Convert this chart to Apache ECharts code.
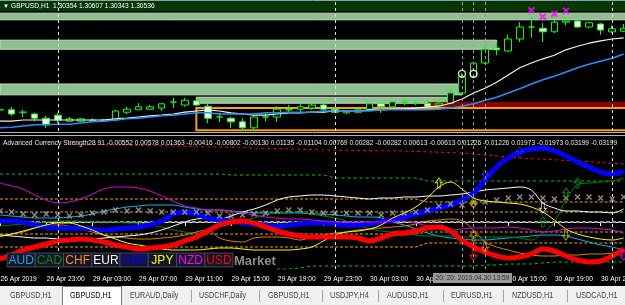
<!DOCTYPE html>
<html><head><meta charset="utf-8">
<script src="https://cdn.jsdelivr.net/npm/echarts/dist/echarts.min.js"></script>
<style>html,body{margin:0;padding:0;background:#000;overflow:hidden}#c{width:625px;height:305px}</style>
</head><body><div id="c"></div>
<script>
// ---------- DATA ----------
const categories = ['2019.04.26 19:00','2019.04.26 20:00','2019.04.26 21:00','2019.04.26 22:00','2019.04.26 23:00',
'2019.04.29 00:00','2019.04.29 01:00','2019.04.29 02:00','2019.04.29 03:00','2019.04.29 04:00','2019.04.29 05:00','2019.04.29 06:00','2019.04.29 07:00',
'2019.04.29 08:00','2019.04.29 09:00','2019.04.29 10:00','2019.04.29 11:00','2019.04.29 12:00','2019.04.29 13:00','2019.04.29 14:00','2019.04.29 15:00',
'2019.04.29 16:00','2019.04.29 17:00','2019.04.29 18:00','2019.04.29 19:00','2019.04.29 20:00','2019.04.29 21:00','2019.04.29 22:00','2019.04.29 23:00',
'2019.04.30 00:00','2019.04.30 01:00','2019.04.30 02:00','2019.04.30 03:00','2019.04.30 04:00','2019.04.30 05:00','2019.04.30 06:00','2019.04.30 07:00',
'2019.04.30 08:00','2019.04.30 09:00','2019.04.30 10:00','2019.04.30 11:00','2019.04.30 12:00','2019.04.30 13:00','2019.04.30 14:00','2019.04.30 15:00',
'2019.04.30 16:00','2019.04.30 17:00','2019.04.30 18:00','2019.04.30 19:00','2019.04.30 20:00','2019.04.30 21:00','2019.04.30 22:00','2019.04.30 23:00',
'2019.05.01 00:00','2019.05.01 01:00','2019.05.01 02:00'];
const tickLabels = ['26 Apr 2019','26 Apr 23:00','29 Apr 03:00','29 Apr 07:00','29 Apr 11:00','29 Apr 15:00','29 Apr 19:00',
'29 Apr 23:00','30 Apr 03:00','30 Apr 07:00','30 Apr 11:00','30 Apr 15:00','30 Apr 19:00','30 Apr 23:00'];
// [open, close, low, high]
const candles = [
[1.2917,1.2917,1.2910,1.2923],[1.2917,1.2910,1.2907,1.2922],[1.2913,1.2913,1.2905,1.2917],[1.2910,1.2903,1.2898,1.2912],
[1.2903,1.2892,1.2887,1.2907],[1.2908,1.2900,1.2895,1.2912],[1.2898,1.2902,1.2897,1.2905],[1.2898,1.2902,1.2897,1.2903],
[1.2898,1.2900,1.2897,1.2903],[1.2898,1.2900,1.2897,1.2902],[1.2900,1.2915,1.2898,1.2917],[1.2913,1.2918,1.2910,1.2922],
[1.2917,1.2922,1.2917,1.2928],[1.2918,1.2922,1.2918,1.2925],[1.2920,1.2927,1.2915,1.2928],[1.2930,1.2930,1.2920,1.2937],
[1.2925,1.2933,1.2922,1.2937],[1.2932,1.2925,1.2923,1.2935],[1.2923,1.2903,1.2895,1.2927],[1.2905,1.2905,1.2897,1.2912],
[1.2903,1.2897,1.2887,1.2905],[1.2897,1.2887,1.2883,1.2903],[1.2887,1.2905,1.2883,1.2908],[1.2905,1.2905,1.2898,1.2912],
[1.2905,1.2918,1.2897,1.2923],[1.2917,1.2917,1.2912,1.2925],[1.2918,1.2922,1.2913,1.2927],[1.2920,1.2925,1.2917,1.2927],
[1.2925,1.2918,1.2912,1.2927],[1.2918,1.2913,1.2912,1.2920],[1.2912,1.2915,1.2910,1.2917],[1.2913,1.2917,1.2913,1.2918],
[1.2918,1.2927,1.2917,1.2928],[1.2928,1.2922,1.2912,1.2930],[1.2922,1.2930,1.2920,1.2932],[1.2930,1.2930,1.2925,1.2935],
[1.2928,1.2928,1.2925,1.2933],[1.2928,1.2923,1.2920,1.2933],[1.2925,1.2928,1.2923,1.2932],[1.2928,1.2945,1.2927,1.2950],
[1.2945,1.2972,1.2942,1.2978],[1.2972,1.2995,1.2970,1.2997],[1.2995,1.3018,1.2993,1.3022],[1.3020,1.3017,1.3008,1.3030],
[1.3015,1.3035,1.3013,1.3042],[1.3035,1.3055,1.3030,1.3063],[1.3055,1.3055,1.3037,1.3072],[1.3053,1.3047,1.3030,1.3062],
[1.3047,1.3063,1.3045,1.3067],[1.3063,1.3065,1.3058,1.3070],[1.3065,1.3055,1.3053,1.3067],[1.3055,1.3062,1.3053,1.3063],
[1.3060,1.3050,1.3042,1.3062],[1.3047,1.3052,1.3045,1.3058],[1.3048,1.3053,1.3047,1.3060]];
const maWhite = [1.2898,1.2898,1.2900,1.2900,1.2900,1.2900,1.2900,1.2900,1.2900,1.2900,
1.2902,1.2903,1.2905,1.2907,1.2908,1.2910,1.2913,1.2915,1.2917,1.2915,
1.2912,1.2910,1.2908,1.2908,1.2910,1.2912,1.2912,1.2913,1.2913,1.2915,
1.2915,1.2915,1.2917,1.2917,1.2918,1.2918,1.2920,1.2922,1.2923,1.2928,
1.2935,1.2945,1.2953,1.2963,1.2975,1.2987,1.2995,1.3002,1.3008,1.3017,
1.3023,1.3028,1.3032,1.3035,1.3037];
const maBlue = [1.2887,1.2888,1.2890,1.2892,1.2892,1.2893,1.2893,1.2895,1.2897,1.2898,
1.2900,1.2902,1.2903,1.2905,1.2907,1.2908,1.2910,1.2912,1.2912,1.2910,
1.2910,1.2910,1.2910,1.2912,1.2912,1.2913,1.2913,1.2913,1.2915,1.2915,
1.2915,1.2915,1.2915,1.2917,1.2917,1.2917,1.2917,1.2917,1.2918,1.2920,
1.2923,1.2927,1.2933,1.2938,1.2945,1.2952,1.2960,1.2967,1.2973,1.2980,
1.2987,1.2993,1.2998,1.3003,1.3010];
const zoneTop = [1.3078,1.3067];
const zoneMid = [1.3033,1.3018];
const zoneLow = [1.2960,1.2942];
const zoneBox = [1.2938,1.2928];
const zoneRed = [1.2930,1.2920];
const orangeBox = [1.2920,1.2883];
const priceLineTop = 1.3080;
const magentaMarks = [[46,1.3083],[47,1.3072],[48,1.3077],[49,1.3082]];
const whiteRings = [[40,1.2977],[41,1.2977]];

// Advanced Currency Strength (indicator units)
const AUD = [7,6,5,4,4,4,5,6,8,11,13,15,16,17,17,17,15,13,12,12,11,10,9,9,9,9,9,8,8,7,6,5,5,4,0,-3,-7,-11,-14,-16,-17,-18,-18,-17,-16,-15,-14,-13,-13,-14,-17,-20,-23,-25,-28];
const CAD = [-4,-3,-2,-1,0,1,1,1,0,0,0,-1,-1,-3,-5,-8,-10,-11,-9,-5,-2,1,4,7,9,10,10,8,6,4,1,-3,-7,-9,-10,-11,-13,-14,-14,-14,-15,-15,-15,-15,-15,-16,-18,-11,0,22,37,39,40,41,44];
const CHF = [-15,-12,-10,-6,-4,-3,-4,-7,-10,-13,-15,-16,-17,-17,-16,-15,-13,-10,-8,-16,-19,-20,-16,-15,-15,-16,-18,-15,-13,-11,-10,-8,-7,-6,-5,-4,-2,1,2,3,1,-8,-20,-25,-28,-31,-33,-34,-34,-33,-33,-32,-32,-31,-29];
const EUR = [-13,-14,-15,-16,-16,-17,-17,-17,-17,-16,-15,-14,-13,-11,-8,-4,0,3,4,3,6,10,13,17,22,25,26,27,27,26,25,24,23,24,24,25,25,26,26,27,28,30,32,33,34,35,32,19,14,11,11,10,10,9,13];
const GBP = [1,1,0,-3,-5,-6,-6,-6,-7,-8,-7,-6,-5,-3,1,8,10,8,4,2,1,-1,-2,-3,-4,-3,-2,-1,-1,-2,-3,-3,-2,0,2,5,8,11,14,17,22,29,42,55,64,70,73,74,71,66,60,55,50,48,51];
const JPY = [-14,-12,-9,-6,-3,-1,-1,-4,-8,-13,-17,-21,-23,-25,-27,-28,-28,-28,-27,-26,-26,-27,-28,-28,-28,-28,-27,-25,-19,-13,-10,-9,-7,-3,4,9,15,24,35,40,33,24,21,20,19,18,15,10,2,-7,-12,-15,-17,-18,-16];
const NZD = [39,36,33,27,22,19,20,23,28,33,35,35,34,31,26,21,16,14,12,12,11,9,7,5,4,3,3,2,1,0,0,0,0,0,1,1,-1,-4,-7,-8,-7,-6,-6,-6,-5,-6,-8,-10,-9,-7,-6,-6,-7,-8,-11];
const USD = [-37,-33,-28,-25,-22,-19,-18,-17,-18,-20,-23,-25,-27,-26,-25,-23,-19,-15,-9,-3,0,1,-1,-5,-9,-12,-14,-15,-15,-15,-15,-16,-19,-16,-12,-11,-9,-6,-5,-9,-18,-25,-30,-34,-36,-35,-32,-27,-29,-34,-38,-40,-39,-34,-27];
const MARKET = [11,10,8,7,8,7,6,7,9,10,12,11,12,11,10,10,10,10,9,6,6,7,8,9,11,12,12,10,9,9,9,9,9,7,9,9,10,12,16,18,17,19,20,22,24,25,25,24,23,24,25,25,24,23,25];
const levelUpper2 = [23,23,23,23,23,23,23,23,23,23,23,23,23,23,23,23,23,23,23,23,23,23,23,23,23,23,23,23,23,23,23,23,23,23,23,23,23,20,20,20,20,20,20,20,20,20,20,20,20,20,20,20,20,20,20];
const levelUpper1 = [10,10,10,10,10,10,10,10,10,10,10,10,10,10,10,10,10,10,10,10,10,10,10,10,10,10,10,10,10,10,10,10,10,10,10,10,10,10,10,10,10,10,10,10,10,10,10,10,10,10,10,10,10,10,10];
const levelZero = [0,0,0,0,0,0,0,0,0,0,0,0,0,0,0,0,0,0,0,0,0,0,0,0,0,0,0,0,0,0,0,0,0,0,0,0,0,0,0,0,0,0,0,0,0,0,0,0,0,0,0,0,0,0,0];
const levelLower1 = [-12,-12,-12,-12,-12,-12,-12,-12,-12,-12,-12,-12,-12,-12,-12,-12,-12,-12,-12,-12,-12,-12,-12,-12,-12,-12,-12,-12,-12,-12,-12,-12,-12,-12,-12,-12,-12,-10,-10,-10,-10,-10,-10,-10,-10,-10,-10,-10,-10,-10,-10,-10,-10,-10,-10];
const levelLower2 = [-25,-25,-25,-25,-25,-25,-25,-25,-25,-25,-25,-25,-25,-25,-25,-25,-25,-25,-25,-25,-25,-25,-25,-25,-25,-25,-25,-25,-25,-25,-25,-25,-25,-25,-25,-25,-25,-21,-21,-21,-21,-21,-21,-21,-21,-21,-21,-21,-21,-21,-21,-21,-21,-21,-21];
const greenTop = [48,48,48,48,48,48,48,48,48,48,48,48,48,48,48,48,48,48,48,48,47,47,47,47,47,47,47,47,47,44,44,44,44,44,44,44,44,41,41,41,41,41,41,41,41,41,41,41,41,41,41,41,41,41,41];
const greenBottom = [null,null,null,null,null,null,null,null,null,null,null,null,null,null,null,null,null,null,null,null,null,null,null,null,-47,-47,-46,-44,-44,-44,-44,-44,-44,-44,-44,-44,-44,-44,-44,-44,-44,-44,-43,-43,-42,-42,-42,-41,-40,-40,-40,-40,-40,-40,-40];
const redDashed = [[6,78],[15,76],[22,74],[28,72],[35,71],[40,69],[45,64],[50,61],[54,58]];
const arrowsUpYellow = [[38,39]];
const arrowsDownYellow = [[41,19],[49,-13]];
const arrowsUpBlue = [[42,47],[45,70]];
const arrowsDownWhite = [[47,14]];
const arrowsUpGreen = [[47,0],[49,29],[50,39]];
const arrowsUpOrange = [[41,-14]];
const arrowsDownOrange = [[42,-25]];
const arrowsDownRed = [[41,-33]];
const arrowsDownMagenta = [[54,-33]];
const daySeparators = [5,29,53];
const crossLines = [40,41,42];
const currencies = ['AUD','CAD','CHF','EUR','GBP','JPY','NZD','USD'];
const headerText = 'GBPUSD,H1  1.30354 1.30607 1.30343 1.30536';
const indicatorTitle = 'Advanced Currency Strength28 91 -0.00552 0.00578 0.01363 -0.00416 -0.00802 -0.00130 0.01135 -0.01104 0.00769 0.00282 -0.00282 0.00613 -0.00613 0.01226 -0.01226 0.01973 -0.01973 0.03199 -0.03199';
const crosshairText = '20: 20: 2019.04.30 13:59';
const tabs = ['GBPUSD,H1','GBPUSD,H1','EURAUD,Daily','USDCHF,Daily','GBPUSD,H1','USDJPY,H4','AUDUSD,H1','EURUSD,H1','NZDUSD,H1','USDCAD,H1'];

// ---------- STYLE / LAYOUT ----------
const REG = '"Liberation Sans",Arial,sans-serif';
const SQ = 0.83; // horizontal squeeze of the small terminal font
const lineColors = {AUD:'#00b8f0',CAD:'#008000',CHF:'#e08000',EUR:'#ffffff',GBP:'#0000ff',JPY:'#ffff00',NZD:'#e000e0',USD:'#ff0000'};
const textColors = {AUD:'#2a9fe8',CAD:'#0a8a0a',CHF:'#ff8c00',EUR:'#ffffff',GBP:'#0000ff',JPY:'#ffff00',NZD:'#ff00ff',USD:'#ff0000'};
const BAR = 11.55;
const N = categories.length;
const GL = -BAR/2, GW = BAR*N;
const cat = i => categories[i];

const chart = echarts.init(document.getElementById('c'), null, {renderer:'canvas', width:625, height:305});

const pairs = a => a.map(p => [cat(p[0]), p[1]]);
const UP = 'path://M5,0L10,5L7,5L7,11L3,11L3,5L0,5Z';
const XSYM = 'path://M0,0L10,10M10,0L0,10';

function arrowSeries(data, color, down) {
  return {type:'scatter', xAxisIndex:1, yAxisIndex:1, data:pairs(data), symbol:UP, symbolSize:[7,10],
    symbolRotate: down?180:0, z:8, silent:true,
    itemStyle:{color:'rgba(0,0,0,0)', borderColor:color, borderWidth:1}};
}
function levelSeries(data, color, type, width, z) {
  return {type:'line', xAxisIndex:1, yAxisIndex:1, data:data, symbol:'none', silent:true, z:z||2,
    lineStyle:{color:color, width:width||1, type:type}, connectNulls:false};
}
function curSeries(name, data, width) {
  return {type:'line', name:name, xAxisIndex:1, yAxisIndex:1, data:data, symbol:'none', silent:true, z:4,
    smooth:0.35, lineStyle:{color:lineColors[name], width:width}};
}
const vLine = (i, color) => ({xAxis: cat(i), lineStyle:{color:color, type:[3,3], width:1}});

const series = [
  {type:'line', xAxisIndex:0, yAxisIndex:0, data:[], symbol:'none', silent:true, z:1,
    markArea:{silent:true, label:{show:false}, itemStyle:{color:'#8fbf8f', borderColor:'#bfe0bf', borderWidth:1}, data:[
      [{yAxis:zoneTop[0]},{yAxis:zoneTop[1]}],
      [{xAxis:cat(0), yAxis:zoneMid[0]},{xAxis:cat(43), yAxis:zoneMid[1]}],
      [{xAxis:cat(0), yAxis:zoneLow[0]},{xAxis:cat(40), yAxis:zoneLow[1]}],
      [{xAxis:cat(17), yAxis:zoneBox[0]},{xAxis:cat(39), yAxis:zoneBox[1]}],
      [{xAxis:cat(37), yAxis:zoneRed[0], itemStyle:{color:'#8b0000', borderWidth:0}},{xAxis:cat(55), yAxis:zoneRed[1]}],
      [{xAxis:cat(17), yAxis:orangeBox[0], itemStyle:{color:'rgba(0,0,0,0)', borderColor:'#ffa000', borderWidth:2}},{xAxis:cat(55), yAxis:orangeBox[1]}]
    ]},
    markLine:{silent:true, symbol:'none', label:{show:false}, data:[
      {yAxis:priceLineTop, lineStyle:{color:'#9a9ab8', type:'solid', width:1}},
      ...daySeparators.map(i => vLine(i,'#e0e0e0')),
      ...crossLines.map(i => vLine(i,'#9a9a9a'))
    ]}
  },
  {type:'candlestick', xAxisIndex:0, yAxisIndex:0, data:candles, barWidth:7, z:3, silent:true,
    itemStyle:{color:'#000000', color0:'#ffffff', borderColor:'#00ff00', borderColor0:'#00ff00', borderWidth:1}},
  {type:'line', xAxisIndex:0, yAxisIndex:0, data:maWhite, symbol:'none', silent:true, z:4, lineStyle:{color:'#f4f4f4', width:1.2}},
  {type:'line', xAxisIndex:0, yAxisIndex:0, data:maBlue, symbol:'none', silent:true, z:4, lineStyle:{color:'#1e90ff', width:1.5}},
  {type:'scatter', xAxisIndex:0, yAxisIndex:0, data:pairs(magentaMarks), symbol:XSYM, symbolSize:6, z:6, silent:true,
    itemStyle:{color:'rgba(0,0,0,0)', borderColor:'#ff00ff', borderWidth:2}},
  {type:'scatter', xAxisIndex:0, yAxisIndex:0, data:pairs(whiteRings), symbol:'circle', symbolSize:7, z:6, silent:true,
    itemStyle:{color:'rgba(0,0,0,0)', borderColor:'#ffffff', borderWidth:1.5}},

  Object.assign(levelSeries(levelZero,'#9a9a9a',[4,2],2,2), {markLine:{silent:true, symbol:'none', label:{show:false}, data:[
      ...daySeparators.map(i => vLine(i,'#e0e0e0')),
      ...crossLines.map(i => vLine(i,'#9a9a9a'))]}}),
  levelSeries(levelUpper2,'#f0a000',[3,2]),
  levelSeries(levelUpper1,'#f0a000',[3,2]),
  levelSeries(levelLower1,'#f0a000',[3,2]),
  levelSeries(levelLower2,'#f0a000',[3,2]),
  levelSeries(greenTop,'#00c800',[3,3]),
  levelSeries(greenBottom,'#00c800',[3,3]),
  levelSeries(pairs(redDashed),'#ff0000',[3,3]),

  curSeries('AUD', AUD, 1),
  curSeries('CAD', CAD, 1),
  curSeries('CHF', CHF, 1),
  curSeries('EUR', EUR, 1),
  curSeries('GBP', GBP, 5),
  curSeries('JPY', JPY, 1),
  curSeries('NZD', NZD, 1),
  curSeries('USD', USD, 5),
  {type:'scatter', xAxisIndex:1, yAxisIndex:1, data:MARKET, symbol:XSYM, symbolSize:5, z:7, silent:true,
    itemStyle:{color:'rgba(0,0,0,0)', borderColor:'#a8a8a8', borderWidth:1.5}},
  arrowSeries(arrowsUpYellow,'#ffff00',false),
  arrowSeries(arrowsDownYellow,'#d0c000',true),
  arrowSeries(arrowsUpBlue,'#3030ff',false),
  arrowSeries(arrowsDownWhite,'#ffffff',true),
  arrowSeries(arrowsUpGreen,'#00a000',false),
  arrowSeries(arrowsUpOrange,'#ff9000',false),
  arrowSeries(arrowsDownOrange,'#ff9000',true),
  arrowSeries(arrowsDownRed,'#ff2020',true),
  arrowSeries(arrowsDownMagenta,'#ff00ff',true)
];

// graphic (terminal chrome)
const g = [];
const T = (x,y,text,fill,font,align,z,sx) => ({type:'text', x:x, y:y, z:z||60, silent:true, scaleX: sx||1, scaleY:1,
  style:{text:text, fill:fill, font:font, align:align||'left', textAlign:align||'left', verticalAlign:'middle', textVerticalAlign:'middle'}});
g.push({type:'rect', shape:{x:0,y:0,width:625,height:11}, style:{fill:'#003800'}, z:1, silent:true});
g.push(T(3,6,'▼','#ffffff','6px '+REG));
g.push(T(11,6,headerText,'#ffffff','8px '+REG,'left',60,SQ));
g.push({type:'line', shape:{x1:0,y1:132.5,x2:625,y2:132.5}, style:{stroke:'#b4b4b4', lineWidth:1}, z:60, silent:true});
g.push({type:'line', shape:{x1:0,y1:135.5,x2:625,y2:135.5}, style:{stroke:'#b4b4b4', lineWidth:1}, z:60, silent:true});
g.push(T(3,143,indicatorTitle,'#e8e8e8','8px '+REG,'left',60,SQ));
const BX = 7, BW = 28.25;
currencies.forEach((c,i) => {
  g.push({type:'rect', shape:{x:BX+i*BW, y:253, width:BW, height:14}, style:{fill:'#15152a', stroke:'#44445e', lineWidth:1}, z:60, silent:true});
  g.push(T(BX+i*BW+BW/2, 260.5, c, textColors[c], '12px '+REG, 'center', 61));
});
g.push(T(BX+8*BW+1, 261, 'Market', '#8c8c8c', 'bold 13px '+REG, 'left', 61));
g.push({type:'rect', shape:{x:433,y:273,width:79,height:10}, style:{fill:'#9a9a9a'}, z:70, silent:true});
g.push(T(472.5,278,crosshairText,'#2a2a2a','8px '+REG,'center',71,SQ));
g.push({type:'rect', shape:{x:0,y:286,width:625,height:19}, style:{fill:'#f0f0f0'}, z:80, silent:true});
const tabX = [10,70,130,199,268,330,387,451,512,576];
const sepX = [191,259,322,378,443,503,567];
g.push({type:'rect', shape:{x:62.5,y:286.5,width:59,height:19}, style:{fill:'#ffffff', stroke:'#7a7a7a', lineWidth:1}, z:81, silent:true});
tabs.forEach((t,i) => g.push(T(tabX[i], 296, t, i===1?'#000000':'#444444', '9px '+REG, 'left', 82, 0.8)));
sepX.forEach(x => g.push({type:'line', shape:{x1:x+0.5,y1:290,x2:x+0.5,y2:302}, style:{stroke:'#a0a0a0', lineWidth:1}, z:82, silent:true}));

const showIdx = (idx) => idx % 4 === 0 && idx <= 52;
const option = {
  backgroundColor:'#000000',
  animation:false,
  grid:[
    {left:GL, top:0, width:GW, height:131, outerBoundsMode:'none', containLabel:false},
    {left:GL, top:137, width:GW, height:132, outerBoundsMode:'none', containLabel:false}
  ],
  xAxis:[
    {type:'category', gridIndex:0, data:categories, boundaryGap:true, show:false},
    {type:'category', gridIndex:1, data:categories, boundaryGap:true,
      axisLine:{show:true, lineStyle:{color:'#ffffff', width:1}},
      axisTick:{show:true, alignWithLabel:true, length:4, interval:showIdx, lineStyle:{color:'#ffffff'}},
      axisLabel:{show:false},
      splitLine:{show:false}}
  ],
  yAxis:[
    {type:'value', gridIndex:0, min:1.28817, max:1.3100, show:false, splitLine:{show:false}},
    {type:'value', gridIndex:1, min:-47, max:85, show:false, splitLine:{show:false}}
  ],
  series:series,
  graphic:{elements:g}
};
chart.setOption(option);
// time-axis labels placed through the axis scale (squeezed terminal font)
tickLabels.forEach((t,k) => {
  const px = chart.convertToPixel({xAxisIndex:1}, categories[k*4]);
  g.push(T(px+0.5, 278.5, t, '#ffffff', '8px '+REG, 'left', 50, SQ));
});
chart.setOption({graphic:{elements:g}});
</script></body></html>
